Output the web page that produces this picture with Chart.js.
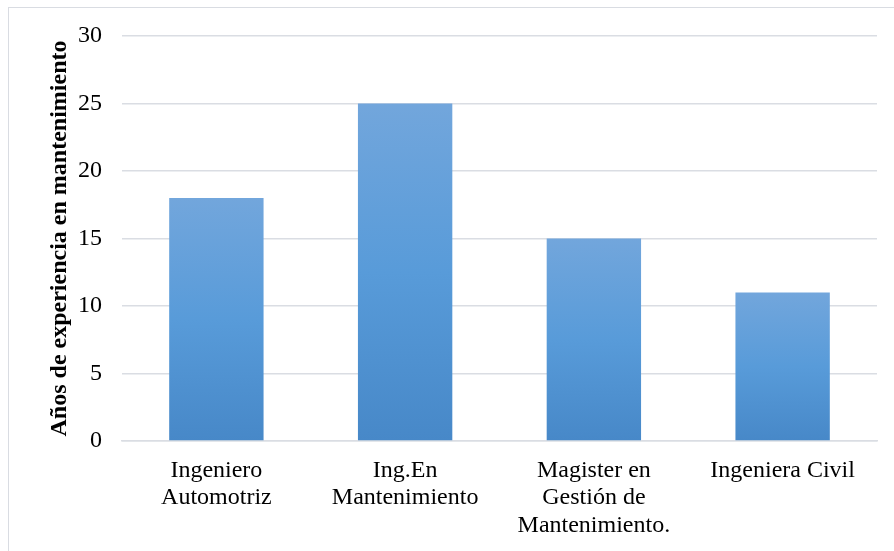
<!DOCTYPE html>
<html>
<head>
<meta charset="utf-8">
<script src="https://cdn.jsdelivr.net/npm/chart.js@4/dist/chart.umd.min.js"></script>
<style>
  html, body { margin: 0; padding: 0; background: #fff; }
  canvas { display: block; }
</style>
</head>
<body>
<canvas id="chart" width="894" height="551"></canvas>
<script>
// Years of maintenance experience by professional profile
const categories = [
  ["Ingeniero", "Automotriz"],
  ["Ing.En", "Mantenimiento"],
  ["Magister en", "Gestión de", "Mantenimiento."],
  "Ingeniera Civil"
];
const years = [18, 25, 15, 11];
const yTicks = [0, 5, 10, 15, 20, 25, 30];
const yTitle = "Años de experiencia en mantenimiento";

const FONT = '"Liberation Serif", "Times New Roman", serif';
const GRID = '#dadde3';

// Light frame around the figure plus white background
const framePlugin = {
  id: 'frame',
  beforeDraw(chart) {
    const c = chart.ctx;
    c.save();
    c.fillStyle = '#ffffff';
    c.fillRect(0, 0, chart.width, chart.height);
    c.strokeStyle = '#d9dce2';
    c.lineWidth = 1;
    c.strokeRect(8.5, 7.5, chart.width + 10, chart.height + 10);
    c.restore();
  }
};

// Vertical gradient for each bar, lighter at the top
function barGradient(ctx) {
  const chart = ctx.chart;
  if (!chart.chartArea || ctx.raw === undefined) return '#5b9bd5';
  const y = chart.scales.y;
  const top = y.getPixelForValue(ctx.raw);
  const bottom = y.getPixelForValue(0);
  const g = chart.ctx.createLinearGradient(0, top, 0, bottom);
  g.addColorStop(0, '#72a6dc');
  g.addColorStop(0.5, '#589bd9');
  g.addColorStop(1, '#4788c8');
  return g;
}

new Chart(document.getElementById('chart'), {
  type: 'bar',
  data: {
    labels: categories,
    datasets: [{
      data: years,
      backgroundColor: barGradient,
      borderWidth: 0,
      barPercentage: 0.5,
      categoryPercentage: 1.0
    }]
  },
  options: {
    responsive: false,
    devicePixelRatio: 1,
    animation: false,
    layout: { padding: { left: 0, top: 36, right: 17, bottom: 0 } },
    plugins: {
      legend: { display: false },
      tooltip: { enabled: false }
    },
    scales: {
      x: {
        grid: { display: false, drawTicks: false },
        border: { display: true, color: GRID, width: 1.5 },
        ticks: {
          color: '#000',
          padding: 16,
          maxRotation: 0,
          autoSkip: false,
          font: { family: FONT, size: 24, lineHeight: 1.14 }
        },
        afterFit(scale) { scale.height = 110; }
      },
      y: {
        min: 0,
        max: 30,
        afterBuildTicks(scale) { scale.ticks = yTicks.map(v => ({ value: v })); },
        grid: { color: GRID, lineWidth: 1.5, drawTicks: false },
        border: { display: false },
        ticks: {
          color: '#000',
          padding: 20,
          font: { family: FONT, size: 24 }
        },
        title: {
          display: true,
          text: yTitle,
          color: '#000',
          padding: { top: 45, bottom: 0 },
          font: { family: FONT, size: 24, weight: 'bold' }
        },
        afterFit(scale) { scale.width = 122; }
      }
    }
  },
  plugins: [framePlugin]
});
</script>
</body>
</html>
